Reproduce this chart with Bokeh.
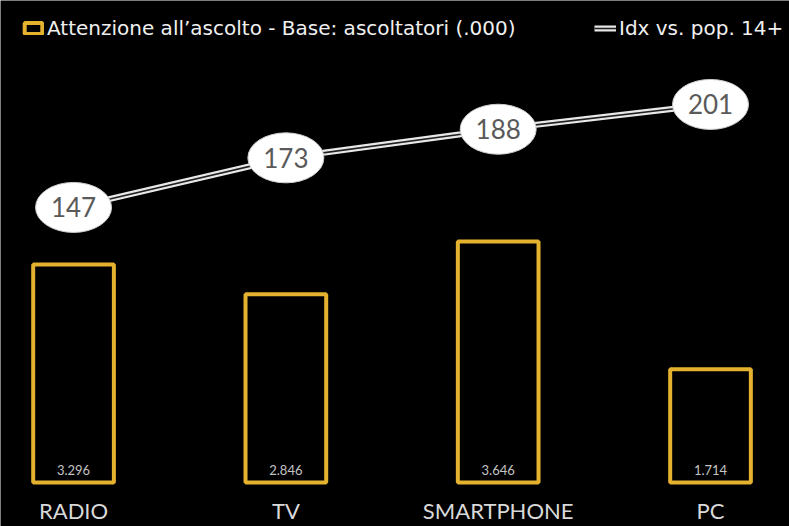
from bokeh.plotting import figure
from bokeh.models import Range1d, Legend, LegendItem, ColumnDataSource
from bokeh.core.properties import value
from bokeh.embed import file_html
from bokeh.resources import INLINE

categories = ["RADIO", "TV", "SMARTPHONE", "PC"]
ascoltatori = [3296, 2846, 3646, 1714]
idx_pop = [147, 173, 188, 201]
bar_labels = ["3.296", "2.846", "3.646", "1.714"]

xs = list(range(len(categories)))
GOLD = "#E5B22F"

src = ColumnDataSource(dict(x=xs, top=ascoltatori, lab=bar_labels, cat=categories,
                            idx=idx_pop, idxlab=[str(v) for v in idx_pop],
                            zero=[0] * len(xs)))

p = figure(width=789, height=526, output_backend="svg", toolbar_location=None,
           x_range=Range1d(-0.344, 3.372), y_range=Range1d(-665, 7288),
           min_border=0, background_fill_color="black", border_fill_color="black",
           outline_line_color=None)
p.extra_y_ranges = {"idx": Range1d(-20.3, 255.5)}
p.xaxis.visible = False
p.yaxis.visible = False
p.xgrid.visible = False
p.ygrid.visible = False

bars = p.vbar(x="x", top="top", bottom=0, width=0.38, source=src,
              fill_alpha=0, line_color=GOLD, line_width=4)

p.text(x="x", y="zero", text="lab", source=src, y_offset=-13,
       text_align="center", text_baseline="middle",
       text_color="#c4c4c4", text_font=value("Lato"), text_font_size="13px")

p.text(x="x", y="zero", text="cat", source=src, y_offset=41,
       text_align="center", text_baseline="bottom",
       text_color="#d9d9d9", text_font=value("Lato"), text_font_size="22px")

l1 = p.line(x="x", y="idx", source=src, y_range_name="idx",
            line_color="#e8e8e8", line_width=6)
l2 = p.line(x="x", y="idx", source=src, y_range_name="idx",
            line_color="#202020", line_width=1.6)

p.ellipse(x="x", y="idx", source=src, y_range_name="idx",
          width=76, height=50, width_units="screen", height_units="screen",
          fill_color="white", line_color="#cfcfcf", line_width=1)
p.text(x="x", y="idx", text="idxlab", source=src, y_range_name="idx",
       text_align="center", text_baseline="middle",
       text_color="#5a5a5a", text_font=value("Lato"), text_font_size="26px")

def mk_legend(items, loc):
    lg = Legend(items=items, location=loc, orientation="horizontal",
                background_fill_alpha=0, border_line_alpha=0,
                padding=0, margin=0, spacing=0,
                glyph_width=22, glyph_height=14, label_standoff=3,
                label_text_color="#f0f0f0", label_text_font="DejaVu Sans",
                label_text_font_size="20px", label_height=24)
    p.add_layout(lg, "center")

mk_legend([LegendItem(label="Attenzione all\u2019ascolto - Base: ascoltatori (.000)", renderers=[bars])], (22, 486))
mk_legend([LegendItem(label="Idx vs. pop. 14+", renderers=[l1, l2])], (594, 486))

open("out.html", "w").write(file_html(p, INLINE))
